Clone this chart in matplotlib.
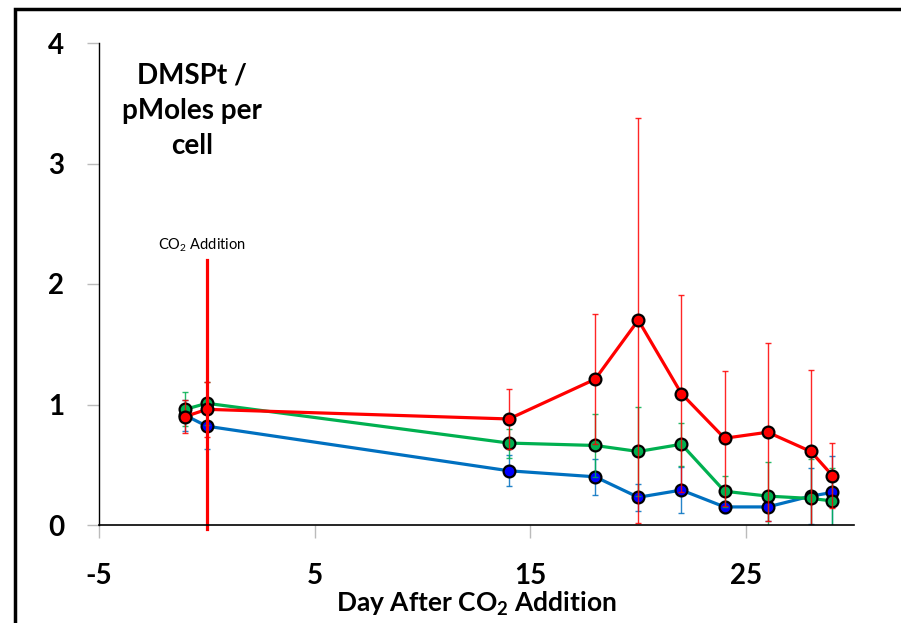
import matplotlib
matplotlib.use("Agg")
import matplotlib.pyplot as plt
from matplotlib.patches import Rectangle
import numpy as np

plt.rcParams['font.family'] = ['Lato', 'DejaVu Sans']
plt.rcParams['mathtext.fontset'] = 'custom'
plt.rcParams['mathtext.rm'] = 'Lato'
plt.rcParams['mathtext.bf'] = 'Lato:bold'
plt.rcParams['axes.unicode_minus'] = False

# dias de muestreo
days = [-1, 0, 14, 18, 20, 22, 24, 26, 28, 29]

# valores de cada tratamiento y sus errores
blue_vals = [0.91, 0.82, 0.45, 0.40, 0.23, 0.29, 0.15, 0.15, 0.24, 0.27]
blue_err = [0.13, 0.19, 0.13, 0.15, 0.11, 0.19, 0.05, 0.12, 0.23, 0.30]
green_vals = [0.96, 1.01, 0.68, 0.66, 0.61, 0.67, 0.28, 0.24, 0.22, 0.20]
green_err = [0.14, 0.18, 0.12, 0.26, 0.37, 0.18, 0.13, 0.28, 0.33, 0.27]
red_vals = [0.90, 0.96, 0.88, 1.21, 1.70, 1.09, 0.72, 0.77, 0.61, 0.41]
red_err = [0.14, 0.23, 0.25, 0.54, 1.68, 0.82, 0.56, 0.74, 0.68, 0.27]

x_ticks = [-5, 5, 15, 25]
y_ticks = [0, 1, 2, 3, 4]
co2_day = 0
co2_top = 2.2

fig = plt.figure(figsize=(9.01, 6.23), dpi=100)
ax = fig.add_axes([99/901, 1-525/623, (854-99)/901, (525-43)/623])

series = [
    (blue_vals, blue_err, '#0070C0', '#0000FF'),
    (green_vals, green_err, '#00B050', '#00B050'),
    (red_vals, red_err, '#FF0000', '#FF0000'),
]
for vals, err, lc, fc in series:
    ax.errorbar(days, vals, yerr=err, fmt='none', ecolor=lc, elinewidth=1,
                capsize=2.5, capthick=1, alpha=0.85)
    ax.plot(days, vals, color=lc, lw=2.3, marker='o', markersize=8.5,
            markerfacecolor=fc, markeredgecolor='black', markeredgewidth=1.6)

# linea de adicion de CO2
ax.plot([co2_day, co2_day], [-0.03, co2_top], color='#FF0000', lw=2.3, clip_on=False)
ax.text(co2_day - 0.25, co2_top + 0.12, 'CO$_2$ Addition', fontsize=10.5,
        ha='center', va='center')

ax.set_xlim(-5, 30)
ax.set_ylim(0, 4)
ax.set_xticks(x_ticks)
ax.set_yticks(y_ticks)
for s in ['top', 'right']:
    ax.spines[s].set_visible(False)
ax.spines['left'].set_linewidth(1)
ax.spines['bottom'].set_linewidth(1.2)
ax.tick_params(axis='y', direction='out', length=9, color='#BBBBBB', width=1,
               pad=16, labelsize=20)
ax.tick_params(axis='x', direction='out', length=9, color='#BBBBBB', width=1,
               pad=18, labelsize=20)
for lab in ax.get_xticklabels() + ax.get_yticklabels():
    lab.set_fontweight('bold')

ax.set_xlabel(r'Day After CO$_\mathbf{2}$ Addition', fontsize=19,
              fontweight='bold', labelpad=1)
ax.text(192, 623 - 111, 'DMSPt /\npMoles per\ncell', transform=None, fontsize=20,
        fontweight='bold', ha='center', va='center', linespacing=1.45)

# marco exterior de la figura
fig.patches.append(Rectangle((15/901, -0.05), 1.0, 1-9/623+0.05,
                             transform=fig.transFigure, fill=False,
                             edgecolor='black', lw=2.5))

plt.savefig('out.png', dpi=100)
